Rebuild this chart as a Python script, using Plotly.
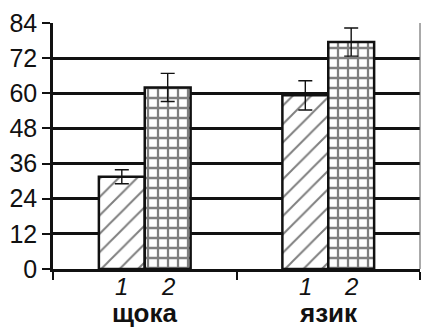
import plotly.graph_objects as go

# Data
categories = ["щока", "язик"]
series_labels = ["1", "2"]
series1_values = [31.5, 59.3]
series1_err = [2.4, 5.0]
series2_values = [62.0, 77.5]
series2_err = [4.8, 4.8]
y_ticks = [0, 12, 24, 36, 48, 60, 72, 84]

bar_w = 0.25
ink = "#111111"
font_family = "Liberation Sans, Arial"

fig = go.Figure()

fig.add_trace(go.Bar(
    x=categories, y=series1_values, name=series_labels[0],
    width=bar_w, offset=-bar_w,
    marker=dict(color="white",
                line=dict(color=ink, width=2.5),
                pattern=dict(shape="/", size=13, solidity=0.15,
                             fgcolor="#000000", bgcolor="white")),
    error_y=dict(type="data", array=series1_err, color=ink,
                 thickness=1.4, width=7),
))
fig.add_trace(go.Bar(
    x=categories, y=series2_values, name=series_labels[1],
    width=bar_w, offset=0,
    marker=dict(color="white",
                line=dict(color=ink, width=2.5),
                pattern=dict(shape="+", size=10, solidity=0.4,
                             fgcolor="#000000", bgcolor="white")),
    error_y=dict(type="data", array=series2_err, color=ink,
                 thickness=1.4, width=7),
))

# Series numbers under each bar and bold category names below them
annotations = []
for i, cat in enumerate(categories):
    for j, lab in enumerate(series_labels):
        annotations.append(dict(
            x=i + (j - 0.5) * bar_w, y=-0.073, xref="x", yref="paper",
            text=f"<i>{lab}</i>", showarrow=False,
            font=dict(family=font_family, size=24, color=ink),
            xanchor="center", yanchor="middle"))
    annotations.append(dict(
        x=i, y=-0.178, xref="x", yref="paper",
        text=f"<b>{cat}</b>", showarrow=False,
        font=dict(family=font_family, size=26, color=ink),
        xanchor="center", yanchor="middle"))

fig.update_layout(
    width=421, height=327,
    margin=dict(l=53, r=1, t=23, b=58),
    paper_bgcolor="white", plot_bgcolor="white",
    showlegend=False,
    barmode="overlay",
    annotations=annotations,
    shapes=[dict(type="line", xref="paper", yref="paper",
                 x0=1, x1=1, y0=0, y1=1,
                 line=dict(color="#555555", width=1))],
    xaxis=dict(
        type="category", range=[-0.5, 1.5],
        tickson="boundaries", ticks="outside", ticklen=8, tickwidth=2,
        tickcolor=ink, showticklabels=False,
        showline=True, linecolor=ink, linewidth=3,
        showgrid=False, zeroline=False,
    ),
    yaxis=dict(
        range=[0, 84], tickvals=y_ticks,
        ticks="outside", ticklen=8, tickwidth=2, tickcolor=ink,
        tickfont=dict(family=font_family, size=25, color=ink),
        showline=True, linecolor=ink, linewidth=2.5,
        showgrid=True, gridcolor=ink, gridwidth=2.5,
        zeroline=False,
    ),
)

fig.write_html("out.html")
